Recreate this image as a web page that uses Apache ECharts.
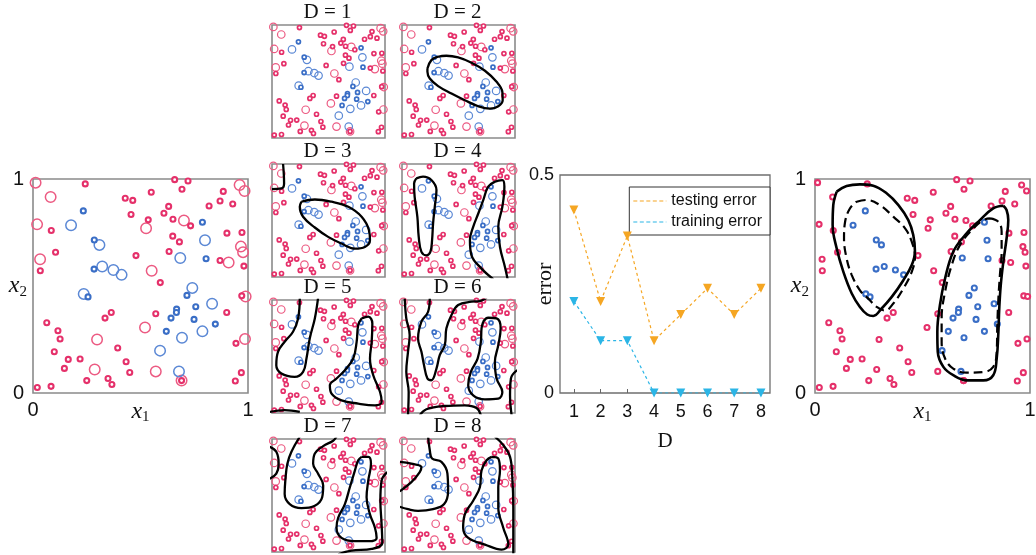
<!DOCTYPE html>
<html><head><meta charset="utf-8">
<script src="https://cdn.jsdelivr.net/npm/echarts@6/dist/echarts.min.js"></script>
<style>html,body{margin:0;padding:0;background:#fff}#c{width:1036px;height:555px}</style>
</head><body><div id="c"></div>
<script>
// ---------- data (x1, x2) ----------
const redTrain = [[0.243,0.977],[0.659,0.997],[0.721,0.991],[0.693,0.952],[0.550,0.938],[0.429,0.910],[0.464,0.900],[0.885,0.942],[0.870,0.897],[0.929,0.883],[0.819,0.874],[0.631,0.872],[0.609,0.840],[0.456,0.834],[0.536,0.809],[0.651,0.812],[0.733,0.781],[0.085,0.759],[0.902,0.747],[0.972,0.750],[0.650,0.733],[0.681,0.706],[0.105,0.658],[0.633,0.661],[0.479,0.642],[0.870,0.619],[0.034,0.571],[0.981,0.593],[0.592,0.516],[0.971,0.454],[0.901,0.376],[0.364,0.376],[0.335,0.350],[0.571,0.370],[0.064,0.328],[0.116,0.291],[0.126,0.252],[0.099,0.193],[0.394,0.210],[0.164,0.157],[0.219,0.159],[0.146,0.115],[0.433,0.146],[0.450,0.096],[0.250,0.058],[0.349,0.068],[0.367,0.040],[0.020,0.026],[0.084,0.031],[0.691,0.058],[0.944,0.232],[0.969,0.095],[0.941,0.056]];
const redTest = [[0.012,0.983],[0.082,0.916],[0.019,0.788],[0.033,0.625],[0.961,0.972],[0.984,0.944],[0.526,0.770],[0.702,0.806],[0.967,0.684],[0.977,0.658],[0.910,0.610],[0.552,0.571],[0.989,0.451],[0.521,0.306],[0.298,0.250],[0.986,0.252],[0.287,0.110],[0.571,0.101],[0.691,0.058]];
const blueTrain = [[0.234,0.851],[0.285,0.715],[0.284,0.579],[0.256,0.449],[0.788,0.798],[0.805,0.627],[0.716,0.456],[0.757,0.403],[0.668,0.392],[0.667,0.376],[0.642,0.350],[0.749,0.344],[0.620,0.288],[0.848,0.322]];
const blueTest = [[0.177,0.784],[0.309,0.692],[0.322,0.591],[0.374,0.575],[0.412,0.552],[0.236,0.463],[0.800,0.714],[0.685,0.631],[0.741,0.491],[0.833,0.417],[0.788,0.288],[0.693,0.258],[0.591,0.198],[0.679,0.101]];

// error curve
const dValues = [1,2,3,4,5,6,7,8];
const testingError = [0.42,0.21,0.36,0.12,0.18,0.24,0.18,0.24];
const trainingError = [0.21,0.12,0.12,0,0,0,0,0];
const errorTicks = [0, 0.5];

// decision boundaries for each D (closed curves repeat their first point)
const curvesD1 = [];
const curvesD2 = [
  [[0.225,0.615],[0.260,0.689],[0.320,0.719],[0.393,0.728],[0.497,0.713],[0.615,0.666],[0.734,0.595],[0.837,0.497],[0.888,0.408],[0.891,0.334],[0.852,0.281],[0.778,0.260],[0.675,0.281],[0.556,0.334],[0.438,0.393],[0.320,0.459],[0.246,0.527],[0.225,0.586],[0.225,0.615]]
];
const curvesD3 = [
  [[0.098,1.0],[0.107,0.828],[0.083,0.784],[0,0.778]],
  [[0.260,0.666],[0.379,0.686],[0.527,0.666],[0.675,0.621],[0.793,0.533],[0.858,0.414],[0.867,0.325],[0.822,0.266],[0.734,0.251],[0.615,0.296],[0.497,0.355],[0.379,0.438],[0.275,0.533],[0.246,0.621],[0.260,0.666]]
];
const curvesD4 = [
  [[0.127,0.873],[0.186,0.888],[0.260,0.858],[0.305,0.769],[0.290,0.621],[0.275,0.473],[0.266,0.325],[0.251,0.222],[0.216,0.192],[0.172,0.222],[0.148,0.355],[0.136,0.533],[0.112,0.710],[0.107,0.828],[0.127,0.873]],
  [[0.808,-0.02],[0.704,0.074],[0.615,0.192],[0.601,0.325],[0.630,0.444],[0.675,0.562],[0.719,0.680],[0.763,0.799],[0.822,0.843],[0.888,0.858],[0.906,0.799],[0.888,0.621],[0.852,0.444],[0.867,0.266],[0.911,0.089],[0.935,-0.02]]
];
const curvesD5 = [
  [[0.246,1.02],[0.231,0.837],[0.186,0.719],[0.112,0.630],[0.053,0.541],[0.038,0.423],[0.083,0.349],[0.201,0.320],[0.275,0.364],[0.305,0.482],[0.334,0.660],[0.379,0.837],[0.408,1.02]],
  [[0.793,0.837],[0.852,0.852],[0.888,0.793],[0.882,0.630],[0.867,0.482],[0.896,0.334],[0.956,0.186],[0.970,0.098],[0.911,0.068],[0.763,0.083],[0.615,0.112],[0.527,0.172],[0.512,0.246],[0.571,0.305],[0.645,0.379],[0.719,0.482],[0.749,0.630],[0.763,0.778],[0.793,0.837]],
  [[-0.02,0.009],[0.112,0.026],[0.246,0.009]]
];
const curvesD6 = [
  [[0.024,1.02],[0.038,0.837],[0.068,0.689],[0.053,0.541],[0.038,0.364],[0.059,0.186],[0.053,-0.02]],
  [[0.246,1.02],[0.231,0.896],[0.172,0.808],[0.142,0.660],[0.172,0.541],[0.195,0.423],[0.225,0.305],[0.260,0.290],[0.305,0.393],[0.334,0.512],[0.379,0.601],[0.393,0.749],[0.438,0.867],[0.497,0.956],[0.615,0.985],[0.689,0.991],[0.75,1.02]],
  [[0.719,0.808],[0.763,0.843],[0.837,0.837],[0.873,0.749],[0.852,0.601],[0.822,0.453],[0.837,0.305],[0.888,0.186],[0.852,0.127],[0.734,0.121],[0.630,0.157],[0.586,0.246],[0.609,0.364],[0.669,0.482],[0.698,0.630],[0.704,0.749],[0.719,0.808]],
  [[0.157,-0.02],[0.216,0.033],[0.379,0.062],[0.556,0.068],[0.660,0.044],[0.698,-0.02]],
  [[1.02,0.379],[0.964,0.305],[0.956,0.157],[0.970,-0.02]]
];
const curvesD7 = [
  [[-0.02,0.931],[0.038,0.887],[0.059,0.782],[0.038,0.693],[-0.02,0.648]],
  [[0.246,1.02],[0.172,0.887],[0.136,0.782],[0.118,0.633],[0.112,0.513],[0.157,0.424],[0.260,0.388],[0.379,0.409],[0.444,0.484],[0.453,0.588],[0.408,0.693],[0.364,0.782],[0.379,0.872],[0.453,0.937],[0.541,0.985],[0.571,1.02]],
  [[0.793,0.842],[0.852,0.842],[0.876,0.782],[0.852,0.633],[0.837,0.484],[0.867,0.334],[0.911,0.215],[0.926,0.125],[0.852,0.096],[0.734,0.096],[0.615,0.125],[0.571,0.215],[0.586,0.304],[0.645,0.424],[0.689,0.573],[0.734,0.722],[0.763,0.812],[0.793,0.842]],
  [[1.02,0.707],[0.970,0.633],[0.959,0.454],[0.970,0.245],[0.976,0.081],[0.882,0.027],[0.704,0.012],[0.586,-0.02]]
];
const curvesD8 = [
  [[-0.02,0.797],[0.083,0.782],[0.172,0.752],[0.157,0.707],[0.083,0.618],[-0.02,0.537]],
  [[0.231,1.02],[0.246,0.901],[0.266,0.827],[0.349,0.797],[0.402,0.693],[0.408,0.543],[0.373,0.424],[0.275,0.379],[0.142,0.364],[0.053,0.379],[-0.02,0.4]],
  [[0.793,0.842],[0.852,0.827],[0.867,0.722],[0.852,0.573],[0.852,0.394],[0.896,0.215],[0.941,0.066],[0.882,0.021],[0.734,0.066],[0.586,0.125],[0.541,0.215],[0.556,0.334],[0.630,0.454],[0.689,0.573],[0.704,0.722],[0.749,0.812],[0.793,0.842]],
  [[0.822,1.02],[0.896,0.946],[0.956,0.842],[0.976,0.663],[0.985,0.394],[0.985,-0.02]]
];
const panelCurves = [curvesD1, curvesD2, curvesD3, curvesD4, curvesD5, curvesD6, curvesD7, curvesD8];
const panelTitles = ['D = 1','D = 2','D = 3','D = 4','D = 5','D = 6','D = 7','D = 8'];

// final (right) plot boundaries
const solidBoundary = [
  [[0.101,0.941],[0.147,0.967],[0.209,0.975],[0.271,0.969],[0.333,0.933],[0.388,0.878],[0.434,0.808],[0.457,0.738],[0.465,0.660],[0.450,0.598],[0.411,0.527],[0.357,0.449],[0.310,0.395],[0.271,0.360],[0.243,0.367],[0.209,0.402],[0.171,0.465],[0.132,0.566],[0.101,0.675],[0.082,0.785],[0.085,0.878],[0.101,0.941]],
  [[0.876,0.875],[0.891,0.855],[0.899,0.808],[0.891,0.722],[0.876,0.613],[0.864,0.504],[0.857,0.395],[0.853,0.285],[0.845,0.161],[0.829,0.083],[0.783,0.059],[0.705,0.059],[0.643,0.083],[0.597,0.122],[0.571,0.192],[0.569,0.285],[0.581,0.410],[0.605,0.535],[0.643,0.660],[0.698,0.738],[0.767,0.808],[0.829,0.863],[0.876,0.875]]
];
const dashedBoundary = [
  [[0.194,0.894],[0.240,0.902],[0.302,0.878],[0.364,0.824],[0.419,0.769],[0.450,0.707],[0.465,0.637],[0.450,0.566],[0.411,0.488],[0.364,0.418],[0.326,0.385],[0.287,0.402],[0.248,0.441],[0.209,0.480],[0.171,0.551],[0.147,0.629],[0.135,0.722],[0.140,0.800],[0.163,0.863],[0.194,0.894]],
  [[0.814,0.816],[0.853,0.800],[0.868,0.754],[0.868,0.660],[0.860,0.551],[0.853,0.441],[0.848,0.317],[0.845,0.192],[0.829,0.122],[0.783,0.098],[0.705,0.095],[0.643,0.114],[0.605,0.161],[0.589,0.239],[0.589,0.348],[0.605,0.473],[0.636,0.598],[0.674,0.691],[0.729,0.761],[0.783,0.808],[0.814,0.816]]
];

// ---------- styling / layout ----------
const RED = '#e5306a', RED_L = '#ec5a82', BLUE = '#3a6ec6', BLUE_L = '#5b88d5';
const SANS = 'Liberation Sans, Arial, sans-serif';
const SERIF = 'Liberation Serif, Times New Roman, serif';
const FRAME = '#8a8a8a';
const panelPos = [[272,25],[402,25],[272,164],[402,164],[272,300],[402,300],[272,439],[402,439]];
const PS = 113;

const grids = [], xAxes = [], yAxes = [], series = [], graphics = [];

function subName(v, n){ return '{i|' + v + '}{s|' + n + '}'; }
const nameRich = {
  i: {fontFamily: SERIF, fontStyle: 'italic', fontSize: 24, color: '#111'},
  s: {fontFamily: SERIF, fontSize: 15, color: '#111', padding: [12,0,0,0]}
};

function scatterGrid(left, top, w, h, showAxes){
  const gi = grids.length;
  grids.push({left, top, width: w, height: h, show: true, borderColor: FRAME, borderWidth: 1.6,
    backgroundColor: '#fff', containLabel: false, outerBoundsMode: 'none'});
  const lbl = {show: showAxes, fontFamily: SANS, fontSize: 20, color: '#111', margin: 7};
  xAxes.push({type:'value', gridIndex: gi, min:0, max:1, interval:1,
    axisLine:{show:false}, axisTick:{show:false}, splitLine:{show:false}, axisLabel: lbl,
    name: showAxes ? subName('x','1') : '', nameLocation:'middle', nameGap: 5, nameMoveOverlap: false,
    nameTextStyle:{rich: nameRich}});
  yAxes.push({type:'value', gridIndex: gi, min:0, max:1, interval:1,
    axisLine:{show:false}, axisTick:{show:false}, splitLine:{show:false}, axisLabel: Object.assign({}, lbl, {margin: 9}),
    name: showAxes ? subName('x','2') : '', nameLocation:'middle', nameGap: 6, nameRotate: 0, nameMoveOverlap: false,
    nameTextStyle:{rich: nameRich, align: 'right'}});
  return gi;
}
function pts(gi, data, color, fill, size, bw, z){
  series.push({type:'scatter', xAxisIndex: gi, yAxisIndex: gi, data, symbol:'circle', symbolSize: size,
    silent: true, z: z || 3, itemStyle:{color: fill, borderColor: color, borderWidth: bw, opacity: 1}});
}
function curve(gi, data, width, dashed){
  series.push({type:'line', xAxisIndex: gi, yAxisIndex: gi, data, smooth: 0.4, symbol:'none', silent:true, z: 5,
    clip: true, lineStyle:{color:'#000', width, type: dashed ? [9,5] : 'solid'}});
}

// left plot: training rings + testing circles
let g = scatterGrid(33, 179, 215, 214, true);
pts(g, redTest, RED_L, 'rgba(255,255,255,0)', 10.5, 1.5, 2);
pts(g, blueTest, BLUE_L, 'rgba(255,255,255,0)', 10.5, 1.5, 2);
pts(g, redTrain, RED, '#fff', 5, 2.1);
pts(g, blueTrain, BLUE, '#fff', 5, 2.1);

// right plot: all points + boundaries
g = scatterGrid(815, 179, 215, 214, true);
pts(g, redTrain.concat(redTest), RED, '#fff', 5, 2.1);
pts(g, blueTrain.concat(blueTest), BLUE, '#fff', 5, 2.1);
solidBoundary.forEach(c => curve(g, c, 2.6, false));
dashedBoundary.forEach(c => curve(g, c, 2.2, true));

// small panels
panelPos.forEach((p, k) => {
  const gi = scatterGrid(p[0], p[1], PS, PS, false);
  pts(gi, redTest, RED_L, 'rgba(255,255,255,0)', 7.5, 1.2, 2);
  pts(gi, blueTest, BLUE_L, 'rgba(255,255,255,0)', 7.5, 1.2, 2);
  pts(gi, redTrain, RED, '#fff', 4, 1.7);
  pts(gi, blueTrain, BLUE, '#fff', 4, 1.7);
  panelCurves[k].forEach(c => curve(gi, c, 2.3, false));
  graphics.push({type:'text', left: p[0] + PS/2 - 25, top: p[1] - 23,
    style:{text: panelTitles[k], fontFamily: SERIF, fontSize: 21, fill:'#111'}});
});

// error chart
const eg = grids.length;
grids.push({left: 560, top: 175, width: 210, height: 218, show: true, borderColor: '#6f6f6f', borderWidth: 1.3,
  backgroundColor:'#fff', containLabel: false, outerBoundsMode: 'none'});
xAxes.push({type:'value', gridIndex: eg, min: 0.48, max: 8.34,
  axisLine:{show:false}, splitLine:{show:false},
  axisTick:{show:true, inside:true, length:4, customValues: dValues, lineStyle:{color:'#666'}},
  axisLabel:{customValues: dValues, fontFamily: SANS, fontSize: 18, color:'#111', margin: 10},
  name:'D', nameLocation:'middle', nameGap: 38, nameMoveOverlap: false,
  nameTextStyle:{fontFamily: SERIF, fontSize: 21, color:'#111'}});
yAxes.push({type:'value', gridIndex: eg, min: 0, max: 0.5, interval: 0.5,
  axisLine:{show:false}, splitLine:{show:false}, axisTick:{show:false},
  axisLabel:{customValues: errorTicks, fontFamily: SANS, fontSize: 18, color:'#111', margin: 6},
  name:'error', nameLocation:'middle', nameGap: 4, nameMoveOverlap: false,
  nameTextStyle:{fontFamily: SERIF, fontSize: 22, color:'#111'}});
const dash = 'path://M0 0h4v1h-4z M6.5 0h4v1h-4z M13 0h4v1h-4z M19.5 0h4v1h-4z M26 0h4v1h-4z M32.5 0h0.5v1h-0.5z';
series.push({type:'line', name:'testing error', xAxisIndex: eg, yAxisIndex: eg, silent:true, z:4,
  data: dValues.map((d,i)=>[d, testingError[i]]), symbol:'triangle', symbolRotate:180, symbolSize:9,
  itemStyle:{color:'#f5a623'}, lineStyle:{color:'#f5a623', width:1.2, type:[3,3]}});
series.push({type:'line', name:'training error', xAxisIndex: eg, yAxisIndex: eg, silent:true, z:4,
  data: dValues.map((d,i)=>[d, trainingError[i]]), symbol:'triangle', symbolRotate:180, symbolSize:9,
  itemStyle:{color:'#2bb5e6'}, lineStyle:{color:'#2bb5e6', width:1.2, type:[3,3]}});

const chart = echarts.init(document.getElementById('c'), null, {renderer:'canvas'});
chart.setOption({
  animation: false,
  backgroundColor: '#fff',
  grid: grids, xAxis: xAxes, yAxis: yAxes, series,
  legend: {orient:'vertical', right: 266, top: 187, padding:[6,8,5,4], itemGap: 5,
    itemWidth: 33, itemHeight: 1.6, icon: dash, backgroundColor:'#fff',
    borderColor:'#333', borderWidth: 1, selectedMode: false,
    textStyle:{fontFamily: SANS, fontSize: 16, color:'#111'},
    data:['testing error','training error']},
  graphic: graphics
});
</script></body></html>
